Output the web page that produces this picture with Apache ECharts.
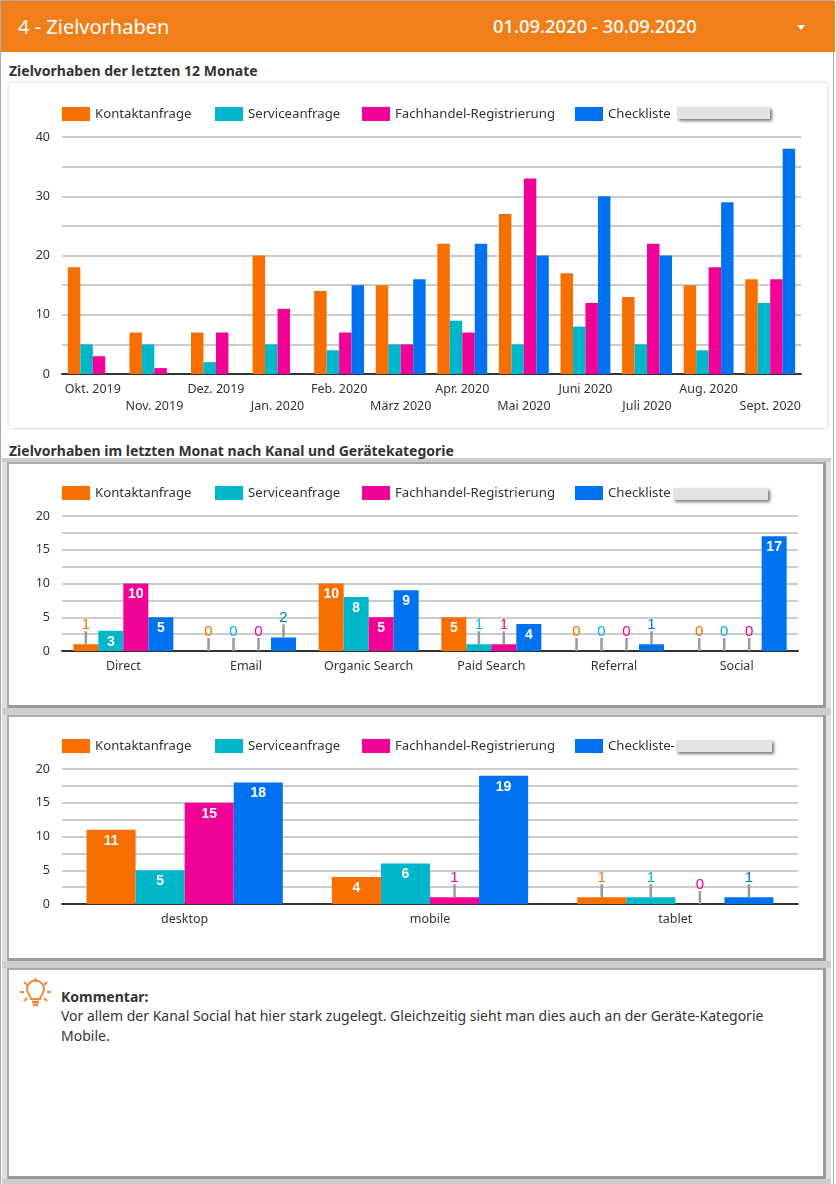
<!DOCTYPE html>
<html>
<head>
<meta charset="utf-8">
<script src="https://cdn.jsdelivr.net/npm/echarts@6/dist/echarts.min.js"></script>
<style>
html,body{margin:0;padding:0;background:#fff;}
body{position:relative;width:836px;height:1184px;overflow:hidden;font-family:"Noto Sans",sans-serif;color:#333;}
.abs{position:absolute;}
#edge{left:0;top:0;width:834px;height:1184px;border-left:1px solid #aaa;border-right:1px solid #aaa;border-top:1px solid #aaa;box-sizing:border-box;}
#head{left:1px;top:1px;width:834px;height:51px;background:#f07f1a;color:#fff;}
#title{left:17px;top:12px;font-size:20px;line-height:28px;}
#range{left:492px;top:11px;font-size:18.400px;line-height:28px;font-weight:500;}
#arrow{left:796px;top:24px;width:0;height:0;border-left:4px solid transparent;border-right:4px solid transparent;border-top:5px solid #fff;}
.sect{left:9px;font-size:14px;font-weight:700;line-height:18px;white-space:nowrap;}
#card{left:9px;top:83px;width:818px;height:345px;background:#fff;box-shadow:0 0 3px rgba(0,0,0,.25);}
#frame{left:2px;top:458px;width:829px;height:726px;background:#e0e0e0;}
.band{position:absolute;left:2px;width:829px;background:#cdcdcd;}
.panel{left:7px;width:814px;background:#fff;border:2px solid #9b9b9b;border-bottom-width:3px;border-right-width:3px;border-top-color:#aaa;border-left-color:#aaa;}
.chart{position:absolute;left:0;width:836px;}
.mask{position:absolute;height:12px;background:#e3e3e3;box-shadow:2px 2px 3px #777;}
#comment{left:61px;top:987px;width:730px;font-size:14px;line-height:20px;}
#comment b{display:block;line-height:19px;}
</style>
</head>
<body>
<div class="abs" id="frame"></div>
<div class="band" style="top:458px;height:4px"></div>
<div class="band" style="top:708px;height:7px"></div>
<div class="band" style="top:961px;height:7px"></div>
<div class="band" style="top:1179px;height:5px"></div>
<div class="abs" id="edge"></div>
<div class="abs" id="head">
  <div class="abs" id="title">4 - Zielvorhaben</div>
  <div class="abs" id="range">01.09.2020 - 30.09.2020</div>
  <div class="abs" id="arrow"></div>
</div>
<div class="abs sect" style="top:62px">Zielvorhaben der letzten 12 Monate</div>
<div class="abs" id="card"></div>
<div class="abs sect" style="top:442px">Zielvorhaben im letzten Monat nach Kanal und Gerätekategorie</div>
<div class="abs panel" style="top:462px;height:241px"></div>
<div class="abs panel" style="top:715px;height:241px"></div>
<div class="abs panel" style="top:968px;height:206px"></div>

<div class="chart" id="chartMonths" style="top:83px;height:345px"></div>
<div class="chart" id="chartChannel" style="top:462px;height:246px"></div>
<div class="chart" id="chartDevice" style="top:715px;height:246px"></div>

<div class="mask" style="left:677px;top:107px;width:93px"></div>
<div class="mask" style="left:673px;top:488px;width:95px"></div>
<div class="mask" style="left:676px;top:740px;width:96px"></div>

<svg class="abs" style="left:20px;top:978px" width="32" height="32" viewBox="0 0 32 32" fill="none" stroke="#f0893a" stroke-width="2">
  <path d="M11 21c0-3-4-5-4-10a8.500 8.500 0 0 1 17 0c0 5-4 7-4 10z"/>
  <path d="M12 24h7M13 27h5" stroke-width="2.500"/>
  <path d="M15.500 0v4M4 4l3 3M27 4l-3 3M0 14h4M27 14h4M4 23l3-3M27 23l-3-3"/>
</svg>
<div class="abs" id="comment"><b>Kommentar:</b>Vor allem der Kanal Social hat hier stark zugelegt. Gleichzeitig sieht man dies auch an der Geräte-Kategorie Mobile.</div>

<script>
var seriesNames = ['Kontaktanfrage', 'Serviceanfrage', 'Fachhandel-Registrierung', 'Checkliste'];
var deviceNames = ['Kontaktanfrage', 'Serviceanfrage', 'Fachhandel-Registrierung', 'Checkliste-'];
var seriesColors = ['#f76f00', '#00b6cb', '#f10296', '#0072f0'];

var months = ['Okt. 2019', 'Nov. 2019', 'Dez. 2019', 'Jan. 2020', 'Feb. 2020', 'März 2020', 'Apr. 2020', 'Mai 2020', 'Juni 2020', 'Juli 2020', 'Aug. 2020', 'Sept. 2020'];
var monthKontakt = [18, 7, 7, 20, 14, 15, 22, 27, 17, 13, 15, 16];
var monthService = [5, 5, 2, 5, 4, 5, 9, 5, 8, 5, 4, 12];
var monthHandel = [3, 1, 7, 11, 7, 5, 7, 33, 12, 22, 18, 16];
var monthListe = [0, 0, 0, 0, 15, 16, 22, 20, 30, 20, 29, 38];

var channels = ['Direct', 'Email', 'Organic Search', 'Paid Search', 'Referral', 'Social'];
var channelKontakt = [1, 0, 10, 5, 0, 0];
var channelService = [3, 0, 8, 1, 0, 0];
var channelHandel = [10, 0, 5, 1, 0, 0];
var channelListe = [5, 2, 9, 4, 1, 17];

var devices = ['desktop', 'mobile', 'tablet'];
var deviceKontakt = [11, 4, 1];
var deviceService = [5, 6, 1];
var deviceHandel = [15, 1, 0];
var deviceListe = [18, 19, 1];

var uiFont = '"Noto Sans", sans-serif';
var legendLeft = [62, 215, 362, 575];

// kleine Werte stehen ueber dem Balken mit Strich, grosse weiss im Balken
function labelled(values, color) {
    return values.map(function (v) {
        if (v >= 3) {
            return {
                value: v,
                label: {
                    show: true, position: 'insideTop', distance: 4, formatter: '{c}',
                    color: '#fff', fontSize: 14, fontWeight: 'bold', fontFamily: 'Liberation Sans'
                }
            };
        }
        return {
            value: v,
            label: {
                show: true, position: 'top', distance: 0,
                formatter: '{n|' + v + '}\n{l|}',
                rich: {
                    n: { color: color, fontSize: 15, fontFamily: 'Liberation Sans', lineHeight: 13, align: 'center' },
                    l: { backgroundColor: '#999', width: 2.5, height: 13, align: 'center' }
                }
            }
        };
    });
}

function buildOption(cats, names, data, grid, step, labelStep, gap, stagger, withLabels) {
    return {
        animation: false,
        legend: names.map(function (name, i) {
            return {
                data: [name], left: legendLeft[i], top: 24, padding: 0,
                itemWidth: 28, itemHeight: 14, itemStyle: { borderWidth: 0 },
                icon: 'rect', selectedMode: false,
                textStyle: { color: '#333', fontSize: 13.200, fontFamily: uiFont }
            };
        }),
        grid: { left: 62, width: grid.width, top: grid.top, height: grid.height },
        xAxis: {
            type: 'category', data: cats,
            axisLine: { lineStyle: { color: '#333', width: 2 } },
            axisTick: { show: false },
            axisLabel: {
                interval: 0, color: '#333', fontSize: 12.500, fontFamily: uiFont, margin: 7, lineHeight: 17,
                formatter: function (v, i) { return stagger && i % 2 ? '\n' + v : v; }
            }
        },
        yAxis: {
            type: 'value', min: 0, max: step * grid.lines, interval: step,
            axisLine: { show: false }, axisTick: { show: false },
            splitLine: { lineStyle: { color: '#ccc', width: 2 } },
            axisLabel: {
                color: '#333', fontSize: 12.500, fontFamily: uiFont, margin: 12,
                formatter: function (v) { return v % labelStep === 0 ? String(v) : ''; }
            }
        },
        series: data.map(function (vals, i) {
            return {
                name: names[i], type: 'bar', barGap: 0, barCategoryGap: gap,
                itemStyle: { color: seriesColors[i] },
                data: withLabels ? labelled(vals, seriesColors[i]) : vals
            };
        })
    };
}

var chartMonths = echarts.init(document.getElementById('chartMonths'));
chartMonths.setOption(buildOption(months, seriesNames, [monthKontakt, monthService, monthHandel, monthListe],
    { top: 54, height: 237, width: 739, lines: 8 }, 5, 10, '19%', true, false));

var chartChannel = echarts.init(document.getElementById('chartChannel'));
chartChannel.setOption(buildOption(channels, seriesNames, [channelKontakt, channelService, channelHandel, channelListe],
    { top: 54, height: 135, width: 736, lines: 8 }, 2.5, 5, '18.5%', false, true));

var chartDevice = echarts.init(document.getElementById('chartDevice'));
chartDevice.setOption(buildOption(devices, deviceNames, [deviceKontakt, deviceService, deviceHandel, deviceListe],
    { top: 54, height: 135, width: 736, lines: 8 }, 2.5, 5, '20%', false, true));
</script>
</body>
</html>
